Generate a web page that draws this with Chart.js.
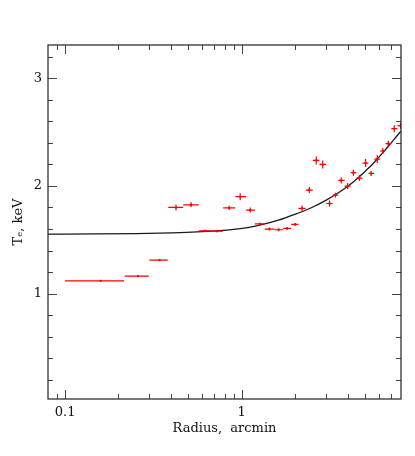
<!DOCTYPE html>
<html>
<head>
<meta charset="utf-8">
<script src="https://cdn.jsdelivr.net/npm/chart.js@4"></script>
<style>
  html, body { margin: 0; padding: 0; background: #fff; }
  #wrap { width: 415px; height: 456px; }
</style>
</head>
<body>
<div id="wrap"><canvas id="chart" width="415" height="456"></canvas></div>
<script>
// Measured profile: bin centre, bin edges, temperature and its error
var radius   = [0.159, 0.259, 0.343, 0.425, 0.517, 0.618, 0.726, 0.850, 0.982, 1.12, 1.27, 1.436, 1.62, 1.81, 2.01, 2.20, 2.42, 2.65, 2.88, 3.15, 3.40, 3.67, 3.99, 4.30, 4.65, 5.04, 5.42, 5.87, 6.31, 6.78, 7.33, 7.96];
var radiusLo = [0.100, 0.218, 0.300, 0.384, 0.467, 0.572, 0.669, 0.786, 0.920, 1.06, 1.19, 1.35, 1.53, 1.72, 1.91, 2.10, 2.31, 2.53, 2.76, 3.01, 3.28, 3.53, 3.83, 4.15, 4.47, 4.84, 5.23, 5.64, 6.09, 6.54, 7.05, 7.64];
var radiusHi = [0.216, 0.298, 0.382, 0.467, 0.572, 0.669, 0.783, 0.920, 1.06, 1.19, 1.35, 1.53, 1.72, 1.91, 2.10, 2.31, 2.53, 2.76, 3.01, 3.28, 3.53, 3.83, 4.15, 4.47, 4.84, 5.23, 5.64, 6.09, 6.54, 7.05, 7.64, 8.30];
var temp     = [1.118, 1.162, 1.311, 1.800, 1.825, 1.583, 1.580, 1.797, 1.900, 1.776, 1.648, 1.599, 1.593, 1.605, 1.642, 1.791, 1.962, 2.237, 2.200, 1.837, 1.915, 2.051, 1.999, 2.123, 2.073, 2.213, 2.116, 2.250, 2.325, 2.393, 2.532, 2.560];
var tempErr  = [0.005, 0.005, 0.008, 0.028, 0.023, 0.010, 0.010, 0.020, 0.033, 0.023, 0.010, 0.014, 0.014, 0.014, 0.014, 0.028, 0.028, 0.037, 0.037, 0.028, 0.023, 0.028, 0.028, 0.028, 0.028, 0.037, 0.023, 0.037, 0.028, 0.028, 0.033, 0.028];

// Model curve
var modelRadius = [0.08, 0.15, 0.25, 0.35, 0.45, 0.6, 0.75, 0.9, 1.1, 1.3, 1.6, 2.0, 2.5, 3.0, 3.5, 4.0, 4.5, 5.0, 5.5, 6.0, 6.5, 7.0, 7.5, 8.0];
var modelTemp   = [1.553, 1.554, 1.557, 1.561, 1.566, 1.575, 1.585, 1.597, 1.616, 1.640, 1.679, 1.735, 1.800, 1.866, 1.932, 1.998, 2.064, 2.135, 2.200, 2.268, 2.333, 2.396, 2.455, 2.510];

// Axis ticks
var xLabelTicks = [0.1, 1];
var xMinorTicks = [0.09, 0.2, 0.3, 0.4, 0.5, 0.6, 0.7, 0.8, 0.9, 2, 3, 4, 5, 6, 7];
var yLabelTicks = [1, 2, 3];
var yMinorTicks = [0.2, 0.4, 0.6, 0.8, 1.2, 1.4, 1.6, 1.8, 2.2, 2.4, 2.6, 2.8, 3.2];

var fontFamily = '"DejaVu Serif", serif';

// Error bars, frame and inward ticks
var decorPlugin = {
  id: 'decor',
  afterDatasetsDraw: function (chart) {
    var ctx = chart.ctx;
    var a = chart.chartArea;
    var xs = chart.scales.x;
    var ys = chart.scales.y;

    ctx.save();
    ctx.beginPath();
    ctx.rect(a.left, a.top, a.right - a.left, a.bottom - a.top);
    ctx.clip();
    ctx.strokeStyle = '#ff0000';
    ctx.lineWidth = 1.2;
    for (var i = 0; i < radius.length; i++) {
      var y = ys.getPixelForValue(temp[i]);
      var x = xs.getPixelForValue(radius[i]);
      ctx.beginPath();
      ctx.moveTo(xs.getPixelForValue(radiusLo[i]), y);
      ctx.lineTo(xs.getPixelForValue(radiusHi[i]), y);
      ctx.moveTo(x, ys.getPixelForValue(temp[i] - tempErr[i]));
      ctx.lineTo(x, ys.getPixelForValue(temp[i] + tempErr[i]));
      ctx.stroke();
    }
    ctx.restore();

    ctx.save();
    ctx.strokeStyle = '#444';
    ctx.lineWidth = 1;
    function xTick(v, len) {
      var px = Math.round(xs.getPixelForValue(v)) + 0.5;
      ctx.moveTo(px, a.bottom); ctx.lineTo(px, a.bottom - len);
      ctx.moveTo(px, a.top); ctx.lineTo(px, a.top + len);
    }
    function yTick(v, len) {
      var py = Math.round(ys.getPixelForValue(v)) + 0.5;
      ctx.moveTo(a.left, py); ctx.lineTo(a.left + len, py);
      ctx.moveTo(a.right, py); ctx.lineTo(a.right - len, py);
    }
    ctx.beginPath();
    xLabelTicks.forEach(function (v) { xTick(v, 9); });
    xMinorTicks.forEach(function (v) { xTick(v, 5); });
    yLabelTicks.forEach(function (v) { yTick(v, 9); });
    yMinorTicks.forEach(function (v) { yTick(v, 5); });
    ctx.stroke();

    ctx.strokeStyle = '#222';
    ctx.lineWidth = 1.2;
    ctx.strokeRect(a.left, a.top, a.right - a.left, a.bottom - a.top);
    ctx.restore();
  }
};

var ctx = document.getElementById('chart');

var config = {
  type: 'scatter',
  data: {
    datasets: [{
      label: 'model',
      data: modelRadius.map(function (r, i) { return { x: r, y: modelTemp[i] }; }),
      showLine: true,
      borderColor: '#1a1a1a',
      borderWidth: 1.3,
      pointRadius: 0,
      cubicInterpolationMode: 'monotone',
      order: 2
    }, {
      label: 'data',
      data: radius.map(function (r, i) { return { x: r, y: temp[i] }; }),
      pointStyle: 'rect',
      pointRadius: 1.4,
      backgroundColor: '#e00000',
      borderColor: '#e00000',
      borderWidth: 0,
      order: 1
    }]
  },
  options: {
    responsive: false,
    animation: false,
    layout: { padding: { top: 45, right: 14, left: 0, bottom: 0 } },
    plugins: {
      legend: { display: false },
      tooltip: { enabled: false }
    },
    scales: {
      x: {
        type: 'logarithmic',
        min: 0.08,
        max: 8,
        grid: { display: false, drawTicks: false },
        border: { display: false },
        ticks: {
          autoSkip: false,
          maxRotation: 0,
          padding: 6,
          color: '#111',
          font: { family: fontFamily, size: 13 },
          callback: function (v) {
            if (Math.abs(v - 0.1) < 1e-9) return '0.1';
            if (Math.abs(v - 1) < 1e-9) return '1';
            return '';
          }
        },
        title: {
          display: true,
          text: 'Radius,  arcmin',
          color: '#111',
          font: { family: fontFamily, size: 13 },
          padding: { top: 0, bottom: 20 }
        },
        afterFit: function (scale) { scale.height = 57; }
      },
      y: {
        min: 0.02,
        max: 3.31,
        grid: { display: false, drawTicks: false },
        border: { display: false },
        ticks: {
          stepSize: 1,
          includeBounds: false,
          padding: 6,
          color: '#111',
          font: { family: fontFamily, size: 13 }
        },
        title: {
          display: true,
          text: 'T\u2091, keV',
          color: '#111',
          font: { family: fontFamily, size: 13 },
          padding: { top: 11, bottom: 0 }
        },
        afterFit: function (scale) { scale.width = 48; }
      }
    }
  },
  plugins: [decorPlugin]
};

var myChart = new Chart(ctx, config);
</script>
</body>
</html>
